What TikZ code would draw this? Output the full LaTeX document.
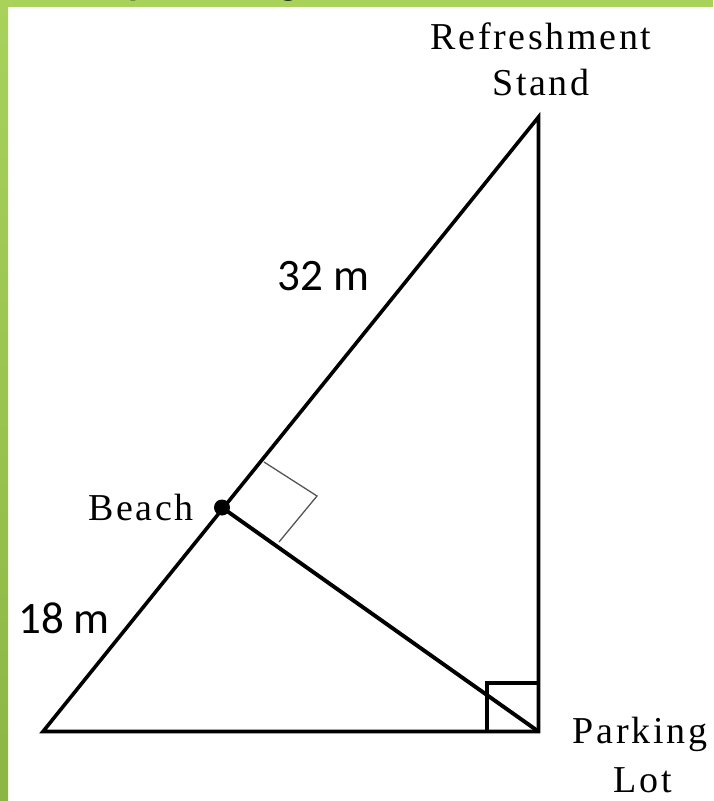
\documentclass[tikz,border=0pt]{standalone}
\usepackage{fontspec}
\newfontfamily\lblfont[LetterSpace=7]{Liberation Serif}
\newfontfamily\numfont{Carlito}
\definecolor{bandtop}{HTML}{A9D25B}
\definecolor{bandbot}{HTML}{8DB544}
\definecolor{markgray}{HTML}{555555}
\begin{document}
\begin{tikzpicture}[x=1pt,y=-1pt,
  side/.style={line width=3.6pt,line join=miter,black},
  alt/.style={line width=3.9pt,black},
  rightmark/.style={line width=1.3pt,markgray},
  rightmarkb/.style={line width=3.2pt,black,line join=miter},
  lbl/.style={font=\lblfont\fontsize{38}{40}\selectfont,inner sep=0pt,text=black},
  num/.style={font=\numfont\fontsize{45}{48}\selectfont,inner sep=0pt,text=black}]
\useasboundingbox (0,0) rectangle (713,801);
\fill[white] (0,0) rectangle (713,801);
% green frame
\fill[bandtop] (0,0) rectangle (713,7);
\shade[top color=bandtop,bottom color=bandbot] (0,0) rectangle (8,801);
% clipped fragments of a title above the frame
\begin{scope}
\clip (0,0) rectangle (713,801);
\node[font=\numfont\bfseries\fontsize{40}{44}\selectfont,inner sep=0pt,anchor=base west] (tp) at (128,-6) {p};
\node[font=\numfont\bfseries\fontsize{40}{44}\selectfont,inner sep=0pt,anchor=base west] (tg) at (279,-6) {g};
\end{scope}
% vertices
\coordinate (A) at (43,731.5);
\coordinate (P) at (538.5,731.5);
\coordinate (R) at (538.5,117);
\coordinate (B) at (222,507.5);
% right angle mark at Beach
\coordinate (b1) at (264,462);
\coordinate (b2) at (317,496);
\coordinate (b3) at (279,542);
\draw[rightmark] (b1) -- (b2) -- (b3);
% right angle mark at Parking Lot
\coordinate (p1) at (487,731.5);
\coordinate (p2) at (487,683);
\coordinate (p3) at (538.5,683);
\draw[rightmarkb] (p1) -- (p2) -- (p3);
% triangle
\draw[side] (A) -- (P) -- (R) -- cycle;
% altitude
\draw[alt] (P) -- (B);
\fill[black] (B) circle[radius=8pt];
% labels
\node[lbl,anchor=base] (rs1) at (541,49) {Refreshment};
\node[lbl,anchor=base] (rs2) at (541,95) {Stand};
\node[lbl,anchor=base west] (beach) at (88,520) {Beach};
\node[lbl,anchor=base] (pl1) at (640,743) {Parking};
\node[lbl,anchor=base] (pl2) at (643,792) {Lot};
\node[num,anchor=base west] (d32) at (277,290) {32 m};
\node[num,anchor=base west] (d18) at (18,633) {18 m};
\end{tikzpicture}
\end{document}
